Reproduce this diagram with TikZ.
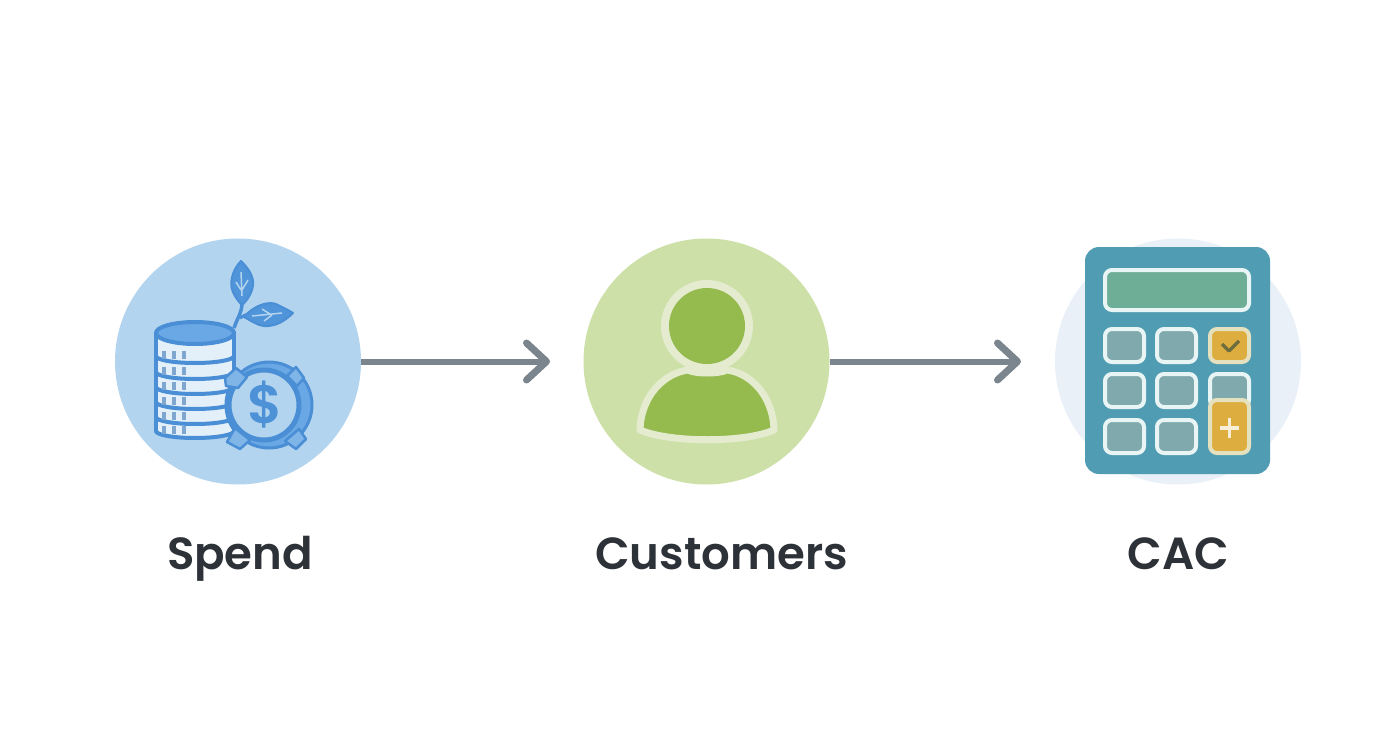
\documentclass[tikz,border=0pt]{standalone}
\usepackage{fontspec}
\setmainfont{Poppins}
\newfontfamily\labelfont{Poppins SemiBold}
\usetikzlibrary{arrows.meta}
\definecolor{bluedisc}{HTML}{B3D4EF}
\definecolor{blueline}{HTML}{4A8FD6}
\definecolor{bluefill}{HTML}{69A8E4}
\definecolor{bluepale}{HTML}{E3F0FA}
\definecolor{bluetick}{HTML}{7FA6CE}
\definecolor{greendisc}{HTML}{CDE0A8}
\definecolor{greenfill}{HTML}{95BB4E}
\definecolor{greenrim}{HTML}{E4EBCF}
\definecolor{calcdisc}{HTML}{E9F0F8}
\definecolor{calcbody}{HTML}{509DB3}
\definecolor{calcscreen}{HTML}{6EAE96}
\definecolor{calckeyfill}{HTML}{7FA9AC}
\definecolor{calcrim}{HTML}{E9F5F5}
\definecolor{calcgold}{HTML}{DDAE3F}
\definecolor{checkolive}{HTML}{6E6D3E}
\definecolor{arrowgray}{HTML}{7B858E}
\definecolor{labelink}{HTML}{2D3238}
\tikzset{
    disc/.style={circle, minimum size=246pt, inner sep=0pt},
    labeltxt/.style={text=labelink, anchor=base, font=\labelfont\fontsize{45}{50}\selectfont},
    flow/.style={draw=arrowgray, line width=6pt},
    calcbtn/.style={draw=calcrim, fill=calckeyfill, line width=4pt, rounded corners=7pt},
    goldbtn/.style={draw=calcrim!70!calcgold, fill=calcgold, line width=4pt, rounded corners=7pt},
    coinedge/.style={draw=blueline, line width=4pt, line cap=round},
    leaf/.style={draw=blueline, fill=blueline!80!bluefill, line width=2pt, line join=round},
    notch/.style={draw=blueline, fill=bluefill!70!bluedisc, line width=2.5pt, line join=round}
}
\begin{document}
\begin{tikzpicture}[x=1pt, y=-1pt, >={Straight Barb[length=20pt, width=37pt, line width=7pt, round]}]
\useasboundingbox (0,0) rectangle (1392,752);
\fill[white] (0,0) rectangle (1392,752);
% discs
\node[disc, fill=bluedisc] (spend) at (238,361.5) {};
\node[disc, fill=greendisc] (customers) at (706.5,361.5) {};
\node[disc, fill=calcdisc] (cac) at (1178,361.5) {};
% connectors
\coordinate (spendend) at (550,361.5);
\coordinate (custend) at (1021,361.5);
\draw[flow, ->] (spend) -- (spendend);
\draw[flow, ->] (customers) -- (custend);
% labels
\node[labeltxt] (spendlabel) at (240,569) {Spend};
\node[labeltxt] (custlabel) at (721.5,569) {Customers};
\node[labeltxt] (caclabel) at (1178.5,569) {CAC};
% sprout
\draw[blueline, line width=3.5pt] (234,328) .. controls (238,316) and (243,312) .. (242,298);
\draw[blueline, line width=3pt] (240,318) .. controls (246,314) and (250,313) .. (256,314);
\draw[leaf] (241,261) .. controls (232,270) and (229,284) .. (233,292) .. controls (236,299) and (240,303) .. (242,305) .. controls (248,300) and (254,290) .. (253,281) .. controls (252,273) and (246,266) .. (241,261) -- cycle;
\draw[leaf] (244,317) .. controls (254,305) and (270,300) .. (278,305) .. controls (284,308) and (290,311) .. (293,313) .. controls (286,320) and (276,327) .. (264,326) .. controls (256,325) and (250,320) .. (244,317) -- cycle;
\draw[bluedisc, line width=1.5pt] (241,272) -- (242,296) (236,282) -- (241,290) (248,280) -- (242,290);
\draw[bluedisc, line width=1.5pt] (252,316) -- (282,313) (262,309) -- (270,314) (264,321) -- (272,315);
% coin stack
\fill[bluepale] (156,333) -- (234,333) -- (234,431) arc[start angle=0, end angle=180, x radius=39, y radius=7] -- cycle;
\foreach \y in {438,424,409,394,379,363}
{
    \draw[coinedge] (234,\y-7) arc[start angle=0, end angle=180, x radius=39, y radius=7];
    \foreach \x in {162,172,182}
    {
        \fill[bluetick] (\x,\y-12) rectangle (\x+3.5,\y-4);
    }
}
\draw[coinedge] (156,333) -- (156,431) (234,333) -- (234,431);
\draw[draw=blueline, fill=bluefill, line width=4pt] (195,333) ellipse[x radius=39, y radius=11];
% dollar coin
\draw[draw=blueline, fill=bluefill, line width=3pt] (269,405) circle (43);
\fill[bluedisc] (263,405) circle (34);
\draw[blueline, line width=5pt] (264,405) circle (35);
\draw[notch] (225,378) -- (236,368) -- (247,377) -- (238,388) -- (226,386) -- cycle;
\draw[notch] (287,376) -- (296,367) -- (304,378) -- (297,386) -- cycle;
\draw[notch] (227,442) -- (235,428) -- (250,440) -- (240,449) -- cycle;
\draw[notch] (285,441) -- (299,429) -- (306,439) -- (296,449) -- cycle;
\node[text=blueline!90!bluefill, font=\labelfont\fontsize{54}{54}\selectfont] (dollar) at (265,405) {\$};
% person
\fill[greenrim] (707,326) circle (46);
\draw[draw=greenrim, fill=greenfill, line width=7pt, line join=round] (640,430) .. controls (641,395) and (665,373) .. (688,370) .. controls (695,374) and (719,374) .. (727,370) .. controls (750,373) and (773,395) .. (774,430) .. controls (745,443) and (670,443) .. (640,430) -- cycle;
\fill[greenfill] (707,326) circle (38);
% calculator
\fill[calcbody, rounded corners=14pt] (1085,247) rectangle (1270,474);
\draw[draw=calcrim, fill=calcscreen, line width=4pt, rounded corners=7pt] (1105,270) rectangle (1249,310);
\foreach \x/\y in {1105/329,1157/329,1105/374,1157/374,1210/374,1105/420,1157/420}
{
    \draw[calcbtn] (\x,\y) rectangle (\x+39,\y+33);
}
\draw[goldbtn] (1210,329) rectangle (1249,362);
\draw[goldbtn] (1210,400) rectangle (1249,453);
\draw[checkolive, line width=3.5pt, line join=round] (1222,344) -- (1229,351) -- (1239,341);
\draw[white!80!calcgold, line width=3.5pt] (1220,428) -- (1239,428) (1229.5,418) -- (1229.5,438);
\end{tikzpicture}
\end{document}
